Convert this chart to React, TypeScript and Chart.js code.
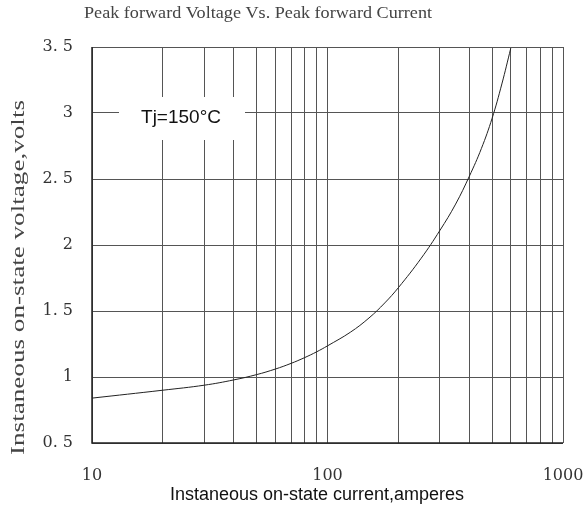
import React, { useEffect, useRef } from "react";
import { Chart, registerables } from "chart.js";

Chart.register(...registerables);

const currentAmps = [10, 20, 30, 40, 50, 60, 70, 80, 90, 100, 125, 150, 175, 200, 250, 300, 350, 400, 450, 500, 550, 600];
const voltageVolts = [0.84, 0.9, 0.938, 0.978, 1.018, 1.06, 1.103, 1.147, 1.191, 1.236, 1.339, 1.447, 1.561, 1.677, 1.9, 2.11, 2.31, 2.52, 2.73, 2.96, 3.22, 3.49];
const xGridValues = [10, 20, 30, 40, 50, 60, 70, 80, 90, 100, 200, 300, 400, 500, 600, 700, 800, 900, 1000];
const xLabelValues = [10, 100, 1000];
const yTickValues = [0.5, 1, 1.5, 2, 2.5, 3, 3.5];
const yTickLabels = ["0. 5", "1", "1. 5", "2", "2. 5", "3", "3. 5"];
const chartTitle = "Peak forward Voltage Vs. Peak forward Current";
const xTitle = "Instaneous on-state current,amperes";
const yTitle = "Instaneous on-state voltage,volts";
const noteText = "Tj=150°C";

function fitText(ctx: any, text: string, x: number, y: number, target: number) {
  const w = ctx.measureText(text).width;
  ctx.save();
  ctx.translate(x, y);
  ctx.scale(target / w, 1);
  ctx.textAlign = "left";
  ctx.fillText(text, 0, 0);
  ctx.restore();
}

export default function App() {
  const ref = useRef<HTMLCanvasElement | null>(null);
  useEffect(() => {
    document.body.style.margin = "0";
    const canvas = ref.current!;
    const textPlugin = {
      id: "texts",
      afterDraw(chart: any) {
        const ctx = chart.ctx;
        const ca = chart.chartArea;
        ctx.save();
        // note box
        ctx.fillStyle = "#ffffff";
        ctx.fillRect(119, 97, 126, 43);
        ctx.fillStyle = "#111";
        ctx.font = "19px 'Liberation Sans', Arial, sans-serif";
        ctx.textAlign = "center";
        ctx.textBaseline = "middle";
        ctx.fillText(noteText, 181, 118);
        // title
        ctx.fillStyle = "#444";
        ctx.font = "17px 'Liberation Serif', serif";
        ctx.textBaseline = "middle";
        fitText(ctx, chartTitle, 84, 14, 348);
        // x title
        ctx.fillStyle = "#111";
        ctx.font = "18px 'Liberation Sans', Arial, sans-serif";
        ctx.textAlign = "center";
        ctx.fillText(xTitle, 317, 495);
        // y title
        ctx.translate(19, 455);
        ctx.rotate(-Math.PI / 2);
        ctx.font = "18px 'Liberation Serif', serif";
        ctx.fillStyle = "#444";
        fitText(ctx, yTitle, 0, 0, 355);
        ctx.restore();
        // borders
        ctx.save();
        ctx.strokeStyle = "#222";
        ctx.lineWidth = 1.5;
        ctx.beginPath();
        ctx.moveTo(ca.left, ca.top);
        ctx.lineTo(ca.left, ca.bottom);
        ctx.lineTo(ca.right, ca.bottom);
        ctx.stroke();
        ctx.restore();
      },
    };
    const chart = new Chart(canvas, {
      type: "line",
      data: {
        datasets: [
          {
            data: currentAmps.map((x, i) => ({ x, y: voltageVolts[i] })),
            borderColor: "#222",
            borderWidth: 1,
            pointRadius: 0,
            tension: 0.4,
            fill: false,
          },
        ],
      },
      options: {
        animation: false,
        responsive: false,
        devicePixelRatio: 1,
        layout: { padding: { top: 47, right: 24, left: 0, bottom: 0 } },
        plugins: { legend: { display: false }, tooltip: { enabled: false }, title: { display: false } },
        scales: {
          x: {
            type: "logarithmic",
            min: 10,
            max: 1000,
            afterBuildTicks: (scale: any) => {
              scale.ticks = xGridValues.map((v) => ({ value: v }));
            },
            afterFit: (scale: any) => {
              scale.height = 67;
              scale.paddingLeft = 0;
              scale.paddingRight = 0;
            },
            grid: { color: "#555", lineWidth: 1, drawTicks: false },
            border: { display: false },
            ticks: {
              autoSkip: false,
              maxRotation: 0,
              padding: 23,
              color: "#333",
              font: { family: "'DejaVu Serif', serif", size: 16 },
              callback: (v: any) => (xLabelValues.includes(Number(v)) ? String(v) : ""),
            },
          },
          y: {
            type: "linear",
            min: 0.5,
            max: 3.5,
            afterBuildTicks: (scale: any) => {
              scale.ticks = yTickValues.map((v) => ({ value: v }));
            },
            afterFit: (scale: any) => {
              scale.width = 92;
              scale.paddingTop = 0;
              scale.paddingBottom = 0;
            },
            grid: { color: "#555", lineWidth: 1, drawTicks: false },
            border: { display: false },
            ticks: {
              padding: 19,
              color: "#333",
              font: { family: "'DejaVu Serif', serif", size: 16 },
              callback: (v: any) => {
                const i = yTickValues.indexOf(Number(v));
                return i >= 0 ? yTickLabels[i] : "";
              },
            },
          },
        },
      },
      plugins: [textPlugin],
    } as any);
    return () => chart.destroy();
  }, []);
  return <canvas ref={ref} width={587} height={510} style={{ display: "block" }} />;
}
